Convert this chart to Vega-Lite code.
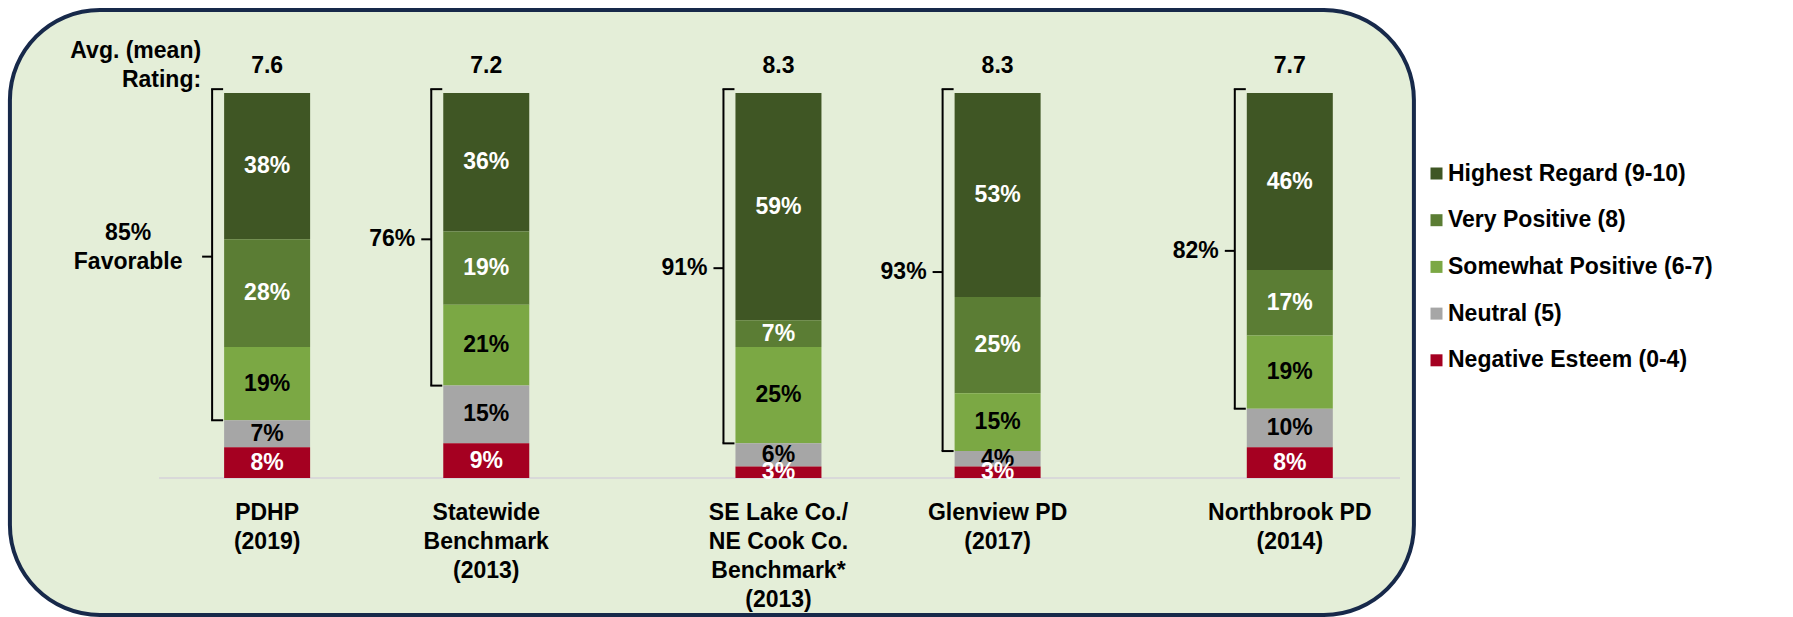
{
  "$schema": "https://vega.github.io/schema/vega-lite/v6.json",
  "width": 1404,
  "height": 605,
  "autosize": {"type": "none"},
  "padding": {"left": 10, "top": 10, "right": 379, "bottom": 2},
  "background": "white",
  "config": {
    "view": {"stroke": null, "fill": null},
    "text": {"font": "Liberation Sans", "fontWeight": "bold", "fontSize": 23, "color": "black"}
  },
  "datasets": {
    "panel": [{"category": "s5", "lo": -0.3558, "hi": 1.2156}],
    "segments": [
      {"category": "PDHP\n(2019)", "segment": "Highest Regard (9-10)", "min_score": 9, "pct": 0.38},
      {"category": "PDHP\n(2019)", "segment": "Very Positive (8)", "min_score": 8, "pct": 0.28},
      {"category": "PDHP\n(2019)", "segment": "Somewhat Positive (6-7)", "min_score": 6, "pct": 0.19},
      {"category": "PDHP\n(2019)", "segment": "Neutral (5)", "min_score": 5, "pct": 0.07},
      {"category": "PDHP\n(2019)", "segment": "Negative Esteem (0-4)", "min_score": 0, "pct": 0.08},
      {"category": "Statewide\nBenchmark\n(2013)", "segment": "Highest Regard (9-10)", "min_score": 9, "pct": 0.36},
      {"category": "Statewide\nBenchmark\n(2013)", "segment": "Very Positive (8)", "min_score": 8, "pct": 0.19},
      {"category": "Statewide\nBenchmark\n(2013)", "segment": "Somewhat Positive (6-7)", "min_score": 6, "pct": 0.21},
      {"category": "Statewide\nBenchmark\n(2013)", "segment": "Neutral (5)", "min_score": 5, "pct": 0.15},
      {"category": "Statewide\nBenchmark\n(2013)", "segment": "Negative Esteem (0-4)", "min_score": 0, "pct": 0.09},
      {"category": "SE Lake Co./\nNE Cook Co.\nBenchmark*\n(2013)", "segment": "Highest Regard (9-10)", "min_score": 9, "pct": 0.59},
      {"category": "SE Lake Co./\nNE Cook Co.\nBenchmark*\n(2013)", "segment": "Very Positive (8)", "min_score": 8, "pct": 0.07},
      {"category": "SE Lake Co./\nNE Cook Co.\nBenchmark*\n(2013)", "segment": "Somewhat Positive (6-7)", "min_score": 6, "pct": 0.25},
      {"category": "SE Lake Co./\nNE Cook Co.\nBenchmark*\n(2013)", "segment": "Neutral (5)", "min_score": 5, "pct": 0.06},
      {"category": "SE Lake Co./\nNE Cook Co.\nBenchmark*\n(2013)", "segment": "Negative Esteem (0-4)", "min_score": 0, "pct": 0.03},
      {"category": "Glenview PD\n(2017)", "segment": "Highest Regard (9-10)", "min_score": 9, "pct": 0.53},
      {"category": "Glenview PD\n(2017)", "segment": "Very Positive (8)", "min_score": 8, "pct": 0.25},
      {"category": "Glenview PD\n(2017)", "segment": "Somewhat Positive (6-7)", "min_score": 6, "pct": 0.15},
      {"category": "Glenview PD\n(2017)", "segment": "Neutral (5)", "min_score": 5, "pct": 0.04},
      {"category": "Glenview PD\n(2017)", "segment": "Negative Esteem (0-4)", "min_score": 0, "pct": 0.03},
      {"category": "Northbrook PD\n(2014)", "segment": "Highest Regard (9-10)", "min_score": 9, "pct": 0.46},
      {"category": "Northbrook PD\n(2014)", "segment": "Very Positive (8)", "min_score": 8, "pct": 0.17},
      {"category": "Northbrook PD\n(2014)", "segment": "Somewhat Positive (6-7)", "min_score": 6, "pct": 0.19},
      {"category": "Northbrook PD\n(2014)", "segment": "Neutral (5)", "min_score": 5, "pct": 0.10},
      {"category": "Northbrook PD\n(2014)", "segment": "Negative Esteem (0-4)", "min_score": 0, "pct": 0.08}
    ],
    "groups": [
      {"category": "PDHP\n(2019)", "rating": 7.6, "fav": 0.85, "unfav": 0.15, "mid": 0.575},
      {"category": "Statewide\nBenchmark\n(2013)", "rating": 7.2, "fav": 0.76, "unfav": 0.24, "mid": 0.62},
      {"category": "SE Lake Co./\nNE Cook Co.\nBenchmark*\n(2013)", "rating": 8.3, "fav": 0.91, "unfav": 0.09, "mid": 0.545},
      {"category": "Glenview PD\n(2017)", "rating": 8.3, "fav": 0.93, "unfav": 0.07, "mid": 0.535},
      {"category": "Northbrook PD\n(2014)", "rating": 7.7, "fav": 0.82, "unfav": 0.18, "mid": 0.59}
    ]
  },
  "encoding": {
    "x": {
      "field": "category", "type": "nominal", "axis": null,
      "scale": {
        "type": "band",
        "domain": ["L1", "L2", "L3", "PDHP\n(2019)", "s1", "s2", "Statewide\nBenchmark\n(2013)", "s3", "s4", "s5", "SE Lake Co./\nNE Cook Co.\nBenchmark*\n(2013)", "s6", "s7", "Glenview PD\n(2017)", "s8", "s9", "s10", "Northbrook PD\n(2014)", "R1"],
        "paddingInner": 0, "paddingOuter": 0.11, "align": 0.09
      }
    }
  },
  "layer": [
    {
      "data": {"name": "panel"},
      "mark": {"type": "bar", "width": 1404, "xOffset": 6.5, "fill": "#E4EED8", "stroke": "#17294A", "strokeWidth": 4, "cornerRadius": 90},
      "encoding": {
        "y": {"field": "lo", "type": "quantitative", "scale": {"domain": [-0.3558, 1.2156], "nice": false, "zero": false}, "axis": null},
        "y2": {"field": "hi"}
      }
    },
    {
      "data": {"name": "groups"},
      "mark": {"type": "rule", "color": "#D9D9D9", "strokeWidth": 2, "xOffset": -108, "x2Offset": 110},
      "encoding": {
        "x": {"datum": "PDHP\n(2019)"},
        "x2": {"datum": "Northbrook PD\n(2014)"},
        "y": {"datum": 0, "type": "quantitative"}
      }
    },
    {
      "data": {"name": "segments"},
      "mark": {"type": "bar", "width": 86},
      "encoding": {
        "y": {"field": "pct", "type": "quantitative", "stack": "zero"},
        "order": {"field": "min_score", "type": "quantitative", "sort": "ascending"},
        "color": {
          "field": "segment", "type": "nominal",
          "scale": {
            "domain": ["Highest Regard (9-10)", "Very Positive (8)", "Somewhat Positive (6-7)", "Neutral (5)", "Negative Esteem (0-4)"],
            "range": ["#3F5624", "#5B7D34", "#7BA844", "#A6A6A6", "#A50021"]
          },
          "legend": {
            "orient": "none", "legendX": 1415, "legendY": 152, "title": null,
            "symbolType": "square", "symbolSize": 144, "symbolOpacity": 1, "symbolStrokeWidth": 0,
            "labelFont": "Liberation Sans", "labelFontWeight": "bold", "labelFontSize": 23, "labelColor": "black",
            "rowPadding": 22.7, "labelOffset": 0, "padding": 0, "labelLimit": 400
          }
        }
      }
    },
    {
      "data": {"name": "segments"},
      "mark": {"type": "text", "baseline": "middle", "align": "center"},
      "encoding": {
        "y": {"field": "pct", "type": "quantitative", "stack": "zero", "bandPosition": 0.5},
        "order": {"field": "min_score", "type": "quantitative", "sort": "ascending"},
        "text": {"field": "pct", "type": "quantitative", "format": ".0%"},
        "color": {
          "condition": {"test": "datum.segment === 'Somewhat Positive (6-7)' || datum.segment === 'Neutral (5)'", "value": "black"},
          "value": "white"
        }
      }
    },
    {
      "data": {"name": "groups"},
      "mark": {"type": "rule", "color": "black", "strokeWidth": 2, "xOffset": -55},
      "encoding": {
        "y": {"field": "unfav", "type": "quantitative"},
        "y2": {"datum": 1.01}
      }
    },
    {
      "data": {"name": "groups"},
      "mark": {"type": "rule", "color": "black", "strokeWidth": 2, "xOffset": -56, "x2Offset": -44},
      "encoding": {
        "x2": {"field": "category"},
        "y": {"datum": 1.01, "type": "quantitative"}
      }
    },
    {
      "data": {"name": "groups"},
      "mark": {"type": "rule", "color": "black", "strokeWidth": 2, "xOffset": -56, "x2Offset": -44},
      "encoding": {
        "x2": {"field": "category"},
        "y": {"field": "unfav", "type": "quantitative"}
      }
    },
    {
      "data": {"name": "groups"},
      "mark": {"type": "rule", "color": "black", "strokeWidth": 2, "xOffset": -65, "x2Offset": -55},
      "encoding": {
        "x2": {"field": "category"},
        "y": {"field": "mid", "type": "quantitative"}
      }
    },
    {
      "data": {"name": "groups"},
      "mark": {"type": "text", "baseline": "middle", "align": "center", "dy": -27},
      "encoding": {
        "y": {"datum": 1, "type": "quantitative"},
        "text": {"field": "rating", "type": "quantitative", "format": ".1f"}
      }
    },
    {
      "data": {"name": "groups"},
      "transform": [{"filter": "datum.category !== 'PDHP\\n(2019)'"}],
      "mark": {"type": "text", "baseline": "middle", "align": "right", "xOffset": -71},
      "encoding": {
        "y": {"field": "mid", "type": "quantitative"},
        "text": {"field": "fav", "type": "quantitative", "format": ".0%"}
      }
    },
    {
      "data": {"name": "groups"},
      "transform": [{"filter": "datum.category === 'PDHP\\n(2019)'"}],
      "mark": {"type": "text", "baseline": "middle", "align": "center", "xOffset": -139, "dy": -24},
      "encoding": {
        "y": {"field": "mid", "type": "quantitative"},
        "text": {"field": "fav", "type": "quantitative", "format": ".0%"}
      }
    },
    {
      "data": {"name": "groups"},
      "transform": [{"filter": "datum.category === 'PDHP\\n(2019)'"}],
      "mark": {"type": "text", "baseline": "middle", "align": "center", "xOffset": -139, "dy": 5, "text": "Favorable"},
      "encoding": {
        "y": {"field": "mid", "type": "quantitative"}
      }
    },
    {
      "data": {"name": "groups"},
      "transform": [{"filter": "datum.category === 'PDHP\\n(2019)'"}],
      "mark": {"type": "text", "baseline": "middle", "align": "right", "xOffset": -66, "dy": -42, "lineHeight": 29, "text": ["Avg. (mean)", "Rating:"]},
      "encoding": {
        "y": {"datum": 1, "type": "quantitative"}
      }
    },
    {
      "data": {"name": "groups"},
      "mark": {"type": "text", "baseline": "top", "align": "center", "dy": 24, "lineBreak": "\n", "lineHeight": 29},
      "encoding": {
        "y": {"datum": 0, "type": "quantitative"},
        "text": {"field": "category", "type": "nominal"}
      }
    }
  ]
}
